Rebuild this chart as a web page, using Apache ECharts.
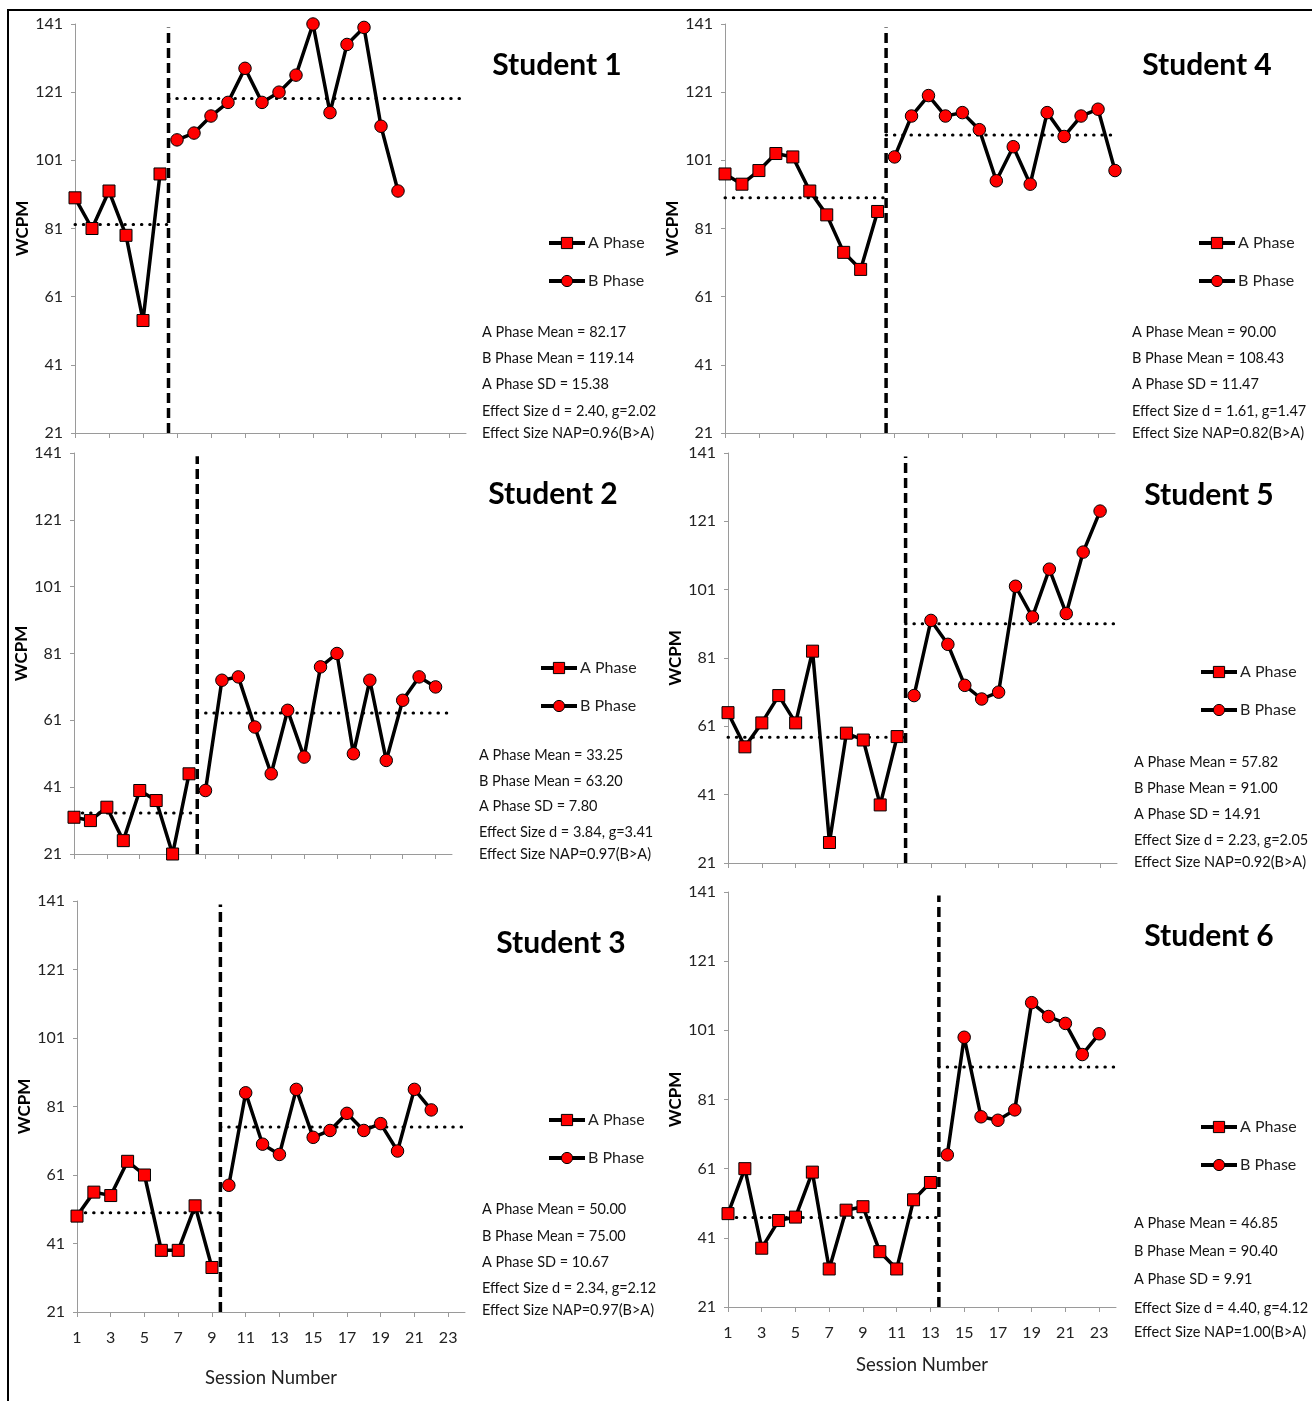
<!DOCTYPE html>
<html>
<head>
<meta charset="utf-8">
<script src="https://cdn.jsdelivr.net/npm/echarts@6/dist/echarts.min.js"></script>
<style>
  html, body { margin: 0; padding: 0; background: #fff; }
  #chart { width: 1312px; height: 1401px; }
</style>
</head>
<body>
<div id="chart"></div>
<script>
// data (WCPM per session)
var STUDENTS = ['Student 1', 'Student 2', 'Student 3', 'Student 4', 'Student 5', 'Student 6'];

var A_PHASE = [
  [90, 81, 92, 79, 54, 97],
  [32, 31, 35, 25, 40, 37, 21, 45],
  [49, 56, 55, 65, 61, 39, 39, 52, 34],
  [97, 94, 98, 103, 102, 92, 85, 74, 69, 86],
  [65, 55, 62, 70, 62, 83, 27, 59, 57, 38, 58],
  [48, 61, 38, 46, 47, 60, 32, 49, 50, 37, 32, 52, 57]
];
var B_PHASE = [
  [107, 109, 114, 118, 128, 118, 121, 126, 141, 115, 135, 140, 111, 92],
  [40, 73, 74, 59, 45, 64, 50, 77, 81, 51, 73, 49, 67, 74, 71],
  [58, 85, 70, 67, 86, 72, 74, 79, 74, 76, 68, 86, 80],
  [102, 114, 120, 114, 115, 110, 95, 105, 94, 115, 108, 114, 116, 98],
  [70, 92, 85, 73, 69, 71, 102, 93, 107, 94, 112, 124],
  [65, 99, 76, 75, 78, 109, 105, 103, 94, 100]
];

var A_MEAN = [82.17, 33.25, 50.00, 90.00, 57.82, 46.85];
var B_MEAN = [119.14, 63.20, 75.00, 108.43, 91.00, 90.40];
var A_SD = [15.38, 7.80, 10.67, 11.47, 14.91, 9.91];
var EFFECT_D = [2.40, 3.84, 2.34, 1.61, 2.23, 4.40];
var EFFECT_G = [2.02, 3.41, 2.12, 1.47, 2.05, 4.12];
var NAP = [0.96, 0.97, 0.97, 0.82, 0.92, 1.00];

var Y_TICKS = [21, 41, 61, 81, 101, 121, 141];
var X_TICKS = [1, 3, 5, 7, 9, 11, 13, 15, 17, 19, 21, 23];

// panel placement (pixels)
var LAYOUT = [
  { grid: [75, 24, 391, 409],  title: [557, 65],  legend: [547, 235],  stats: [482, [332, 358, 384, 411, 433]],    gap: 41, showX: false },
  { grid: [74, 453, 378, 401], title: [553, 494], legend: [539, 660],  stats: [479, [755, 781, 806, 832, 854]],    gap: 32, showX: false },
  { grid: [77, 901, 388, 411], title: [561, 943], legend: [547, 1112], stats: [482, [1209, 1236, 1262, 1288, 1310]], gap: 43, showX: true, xGap: 57 },
  { grid: [725, 24, 390, 409], title: [1207, 65], legend: [1197, 235], stats: [1132, [332, 358, 384, 411, 433]],   gap: 42, showX: false },
  { grid: [728, 453, 389, 410], title: [1209, 495], legend: [1199, 664], stats: [1134, [762, 788, 814, 840, 862]],  gap: 43, showX: false },
  { grid: [728, 892, 388, 415], title: [1209, 936], legend: [1199, 1119], stats: [1134, [1223, 1251, 1279, 1308, 1332]], gap: 43, showX: true, xGap: 49 }
];

var FONT = 'Lato, "Open Sans", sans-serif';
var AXIS_GRAY = '#9a9a9a';

var myChart = echarts.init(document.getElementById('chart'), null, { renderer: 'canvas' });

var grids = [], xAxes = [], yAxes = [], series = [], legends = [], graphics = [];

STUDENTS.forEach(function (name, i) {
  var L = LAYOUT[i];
  var nA = A_PHASE[i].length;
  var change = nA + 0.5;

  grids.push({ left: L.grid[0], top: L.grid[1], width: L.grid[2], height: L.grid[3] });

  xAxes.push({
    gridIndex: i, type: 'value', min: 1, max: 24,
    axisLine: { show: true, onZero: false, lineStyle: { color: AXIS_GRAY, width: 1 } },
    axisTick: { show: true, customValues: X_TICKS, length: 5, lineStyle: { color: AXIS_GRAY } },
    axisLabel: { show: L.showX, customValues: X_TICKS, margin: 18, fontSize: 16, color: '#222', fontFamily: FONT },
    splitLine: { show: false },
    name: L.showX ? 'Session Number' : '',
    nameLocation: 'middle', nameGap: L.xGap || 30,
    nameTextStyle: { fontSize: 18.5, color: '#222', fontFamily: FONT }
  });

  yAxes.push({
    gridIndex: i, type: 'value', min: 21, max: 141,
    axisLine: { show: true, onZero: false, lineStyle: { color: AXIS_GRAY, width: 1 } },
    axisTick: { show: true, customValues: Y_TICKS, length: 4, lineStyle: { color: AXIS_GRAY } },
    axisLabel: { customValues: Y_TICKS, margin: 12, fontSize: 16, color: '#222', fontFamily: FONT },
    splitLine: { show: false },
    name: 'WCPM', nameLocation: 'middle', nameRotate: 90, nameGap: L.gap,
    nameTextStyle: { fontSize: 17, fontWeight: 'bold', color: '#000', fontFamily: FONT }
  });

  var aData = A_PHASE[i].map(function (v, k) { return [k + 1, v]; });
  var bData = B_PHASE[i].map(function (v, k) { return [nA + k + 1, v]; });

  var dotted = { color: '#000', width: 3, type: [0.5, 7.8], cap: 'round' };

  series.push({
    name: 'A Mean', type: 'line', xAxisIndex: i, yAxisIndex: i, silent: true, z: 1,
    symbol: 'none', lineStyle: dotted,
    data: [[1, A_MEAN[i]], [change, A_MEAN[i]]]
  });
  series.push({
    name: 'B Mean', type: 'line', xAxisIndex: i, yAxisIndex: i, silent: true, z: 1,
    symbol: 'none', lineStyle: dotted,
    data: [[change, B_MEAN[i]], [24, B_MEAN[i]]]
  });
  series.push({
    name: 'Phase Change', type: 'line', xAxisIndex: i, yAxisIndex: i, silent: true, z: 1,
    symbol: 'none', lineStyle: { color: '#000', width: 3.5, type: [10, 5] },
    data: [[change, 21], [change, 140]]
  });
  series.push({
    name: 'A Phase', type: 'line', xAxisIndex: i, yAxisIndex: i, z: 3,
    symbol: 'rect', symbolSize: 12,
    itemStyle: { color: '#ff0000', borderColor: '#000', borderWidth: 1 },
    lineStyle: { color: '#000', width: 3.5 },
    data: aData
  });
  series.push({
    name: 'B Phase', type: 'line', xAxisIndex: i, yAxisIndex: i, z: 3,
    symbol: 'circle', symbolSize: 12.5,
    itemStyle: { color: '#ff0000', borderColor: '#000', borderWidth: 1 },
    lineStyle: { color: '#000', width: 3.5 },
    data: bData
  });

  legends.push({
    data: ['A Phase', 'B Phase'], orient: 'vertical',
    left: L.legend[0], top: L.legend[1], padding: 0,
    itemWidth: 36, itemHeight: 14, itemGap: 22,
    selectedMode: false,
    lineStyle: { color: '#000', width: 4 },
    itemStyle: { color: '#ff0000', borderColor: '#000', borderWidth: 1 },
    textStyle: { fontSize: 16, color: '#222', fontFamily: FONT, padding: [0, 0, 0, -2] }
  });

  graphics.push({
    type: 'text', x: L.title[0], y: L.title[1],
    style: { text: name, font: 'bold 30px ' + FONT, fill: '#000', align: 'center', verticalAlign: 'middle' }
  });

  var lines = [
    'A Phase Mean = ' + A_MEAN[i].toFixed(2),
    'B Phase Mean = ' + B_MEAN[i].toFixed(2),
    'A Phase SD = ' + A_SD[i].toFixed(2),
    'Effect Size d = ' + EFFECT_D[i].toFixed(2) + ', g=' + EFFECT_G[i].toFixed(2),
    'Effect Size NAP=' + NAP[i].toFixed(2) + '(B>A)'
  ];
  lines.forEach(function (t, k) {
    graphics.push({
      type: 'text', x: L.stats[0], y: L.stats[1][k],
      style: { text: t, font: '14.5px ' + FONT, fill: '#111', align: 'left', verticalAlign: 'middle' }
    });
  });
});

// outer frame (left and top edges only)
graphics.push({
  type: 'polyline',
  shape: { points: [[8, 1401], [8, 10], [1312, 10]] },
  style: { stroke: '#000', lineWidth: 2, fill: null }
});

var option = {
  backgroundColor: '#fff',
  animation: false,
  grid: grids,
  xAxis: xAxes,
  yAxis: yAxes,
  legend: legends,
  series: series,
  graphic: graphics
};

myChart.setOption(option);
</script>
</body>
</html>
